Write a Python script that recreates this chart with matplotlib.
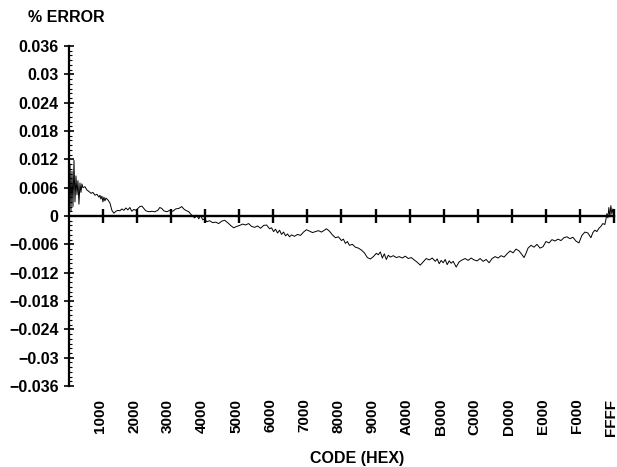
import numpy as np
import matplotlib
matplotlib.use('Agg')
import matplotlib.pyplot as plt
from matplotlib.ticker import MultipleLocator, FixedLocator
from matplotlib.transforms import ScaledTranslation

plt.rcParams['font.family'] = ['Liberation Sans', 'DejaVu Sans']
plt.rcParams['font.weight'] = 'bold'

# DAC code (decimal) and % error
codes = [
    0, 120, 240, 360, 480, 600, 720, 840, 960, 1080,
    1200, 1320, 1440, 1560, 1680, 1920, 2160, 2400, 2640, 2880,
    3120, 3360, 3600, 3720, 3840, 3960, 4080, 4200, 4320, 4440,
    4680, 4920, 5160, 5400, 5640, 5880, 6120, 6360, 6600, 6840,
    7080, 7320, 7560, 7800, 8040, 8280, 8520, 8760, 9000, 9240,
    9600, 9960, 10320, 10680, 10920, 11160, 11400, 11760, 12120, 12480,
    12840, 13200, 13560, 13800, 14040, 14400, 14640, 14880, 15120, 15360,
    15600, 15840, 16080, 16320, 16560, 16920, 17280, 17640, 18000, 18360,
    18720, 19080, 19440, 19800, 20160, 20520, 20880, 21240, 21600, 21960,
    22320, 22680, 23040, 23400, 23760, 24120, 24360, 24600, 24840, 25080,
    25320, 25560, 25800, 26040, 26280, 26520, 26760, 27120, 27480, 27840,
    28200, 28560, 28920, 29280, 29640, 30000, 30360, 30720, 30960, 31320,
    31680, 32040, 32400, 32760, 33000, 33240, 33480, 33720, 34080, 34440,
    34800, 35160, 35520, 35880, 36240, 36600, 36960, 37200, 37440, 37680,
    37920, 38160, 38400, 38640, 39000, 39360, 39720, 40080, 40440, 40800,
    41160, 41520, 41880, 42240, 42600, 42960, 43320, 43680, 44040, 44280,
    44520, 44760, 45000, 45240, 45480, 45720, 45960, 46200, 46560, 46920,
    47280, 47640, 48000, 48360, 48720, 49080, 49440, 49800, 50160, 50520,
    50880, 51240, 51600, 51960, 52320, 52680, 53040, 53400, 53760, 54120,
    54480, 54720, 54960, 55200, 55560, 55920, 56280, 56640, 57000, 57360,
    57720, 58080, 58440, 58800, 59160, 59520, 59880, 60240, 60600, 60960,
    61320, 61680, 62040, 62400, 62760, 63000, 63240, 63480, 63720, 63960,
    64200, 64440, 64560, 64680, 64800, 64920, 65040, 65160, 65280, 65400,
    65520, 65535,
]
error_pct = [
    0.0000, 0.0110, 0.0010, 0.0095, 0.0020, 0.0118, 0.0030, 0.0085, 0.0045, 0.0075,
    0.0025, 0.0070, 0.0050, 0.0068, 0.0060, 0.0062, 0.0055, 0.0052, 0.0048, 0.0050,
    0.0044, 0.0046, 0.0040, 0.0044, 0.0036, 0.0042, 0.0030, 0.0040, 0.0032, 0.0038,
    0.0034, 0.0028, 0.0012, 0.0006, 0.0010, 0.0012, 0.0011, 0.0015, 0.0012, 0.0017,
    0.0013, 0.0018, 0.0010, 0.0014, 0.0012, 0.0016, 0.0020, 0.0021, 0.0016, 0.0011,
    0.0009, 0.0010, 0.0009, 0.0012, 0.0018, 0.0016, 0.0011, 0.0009, 0.0012, 0.0010,
    0.0015, 0.0016, 0.0020, 0.0015, 0.0012, 0.0009, 0.0004, 0.0000, -0.0004, 0.0002,
    -0.0006, 0.0001, -0.0008, -0.0006, -0.0012, -0.0010, -0.0014, -0.0013, -0.0016, -0.0011,
    -0.0009, -0.0014, -0.0020, -0.0025, -0.0022, -0.0020, -0.0017, -0.0019, -0.0016, -0.0022,
    -0.0024, -0.0021, -0.0026, -0.0020, -0.0019, -0.0027, -0.0025, -0.0033, -0.0028, -0.0036,
    -0.0030, -0.0039, -0.0034, -0.0042, -0.0038, -0.0044, -0.0040, -0.0043, -0.0039, -0.0041,
    -0.0034, -0.0029, -0.0032, -0.0035, -0.0033, -0.0031, -0.0034, -0.0030, -0.0027, -0.0032,
    -0.0040, -0.0046, -0.0044, -0.0052, -0.0049, -0.0058, -0.0054, -0.0062, -0.0060, -0.0066,
    -0.0068, -0.0072, -0.0078, -0.0088, -0.0091, -0.0086, -0.0079, -0.0082, -0.0076, -0.0089,
    -0.0080, -0.0092, -0.0083, -0.0087, -0.0084, -0.0088, -0.0086, -0.0089, -0.0085, -0.0090,
    -0.0088, -0.0093, -0.0098, -0.0104, -0.0097, -0.0090, -0.0093, -0.0089, -0.0096, -0.0091,
    -0.0101, -0.0094, -0.0099, -0.0092, -0.0103, -0.0095, -0.0100, -0.0096, -0.0108, -0.0097,
    -0.0093, -0.0090, -0.0094, -0.0089, -0.0093, -0.0095, -0.0090, -0.0096, -0.0092, -0.0099,
    -0.0090, -0.0086, -0.0089, -0.0084, -0.0087, -0.0080, -0.0074, -0.0078, -0.0070, -0.0074,
    -0.0082, -0.0088, -0.0079, -0.0068, -0.0062, -0.0066, -0.0060, -0.0068, -0.0065, -0.0054,
    -0.0057, -0.0050, -0.0053, -0.0049, -0.0052, -0.0046, -0.0044, -0.0048, -0.0045, -0.0053,
    -0.0057, -0.0041, -0.0034, -0.0036, -0.0046, -0.0035, -0.0030, -0.0033, -0.0026, -0.0022,
    -0.0016, -0.0018, -0.0008, 0.0005, -0.0004, 0.0018, -0.0002, 0.0022, 0.0004, 0.0015,
    0.0002, 0.0010,
]

tick_codes = [0x1000 * i for i in range(1, 16)] + [0xFFFF]
tick_labels = ['1000', '2000', '3000', '4000', '5000', '6000', '7000', '8000',
               '9000', 'A000', 'B000', 'C000', 'D000', 'E000', 'F000', 'FFFF']
y_ticks = [-0.036, -0.03, -0.024, -0.018, -0.012, -0.006, 0, 0.006,
           0.012, 0.018, 0.024, 0.03, 0.036]


def fmt(v):
    if v == 0:
        return '0'
    s = ('%.3f' % abs(v)).rstrip('0')
    return ('\u2212' + s) if v < 0 else s


fig = plt.figure(figsize=(6.17, 4.67), dpi=100)
ax = fig.add_axes([0.1118, 0.1734, 0.8833, 0.7281])

ax.plot(codes, error_pct, color='k', linewidth=0.7, zorder=3)

ax.set_xlim(0, 0xFFFF)
ax.set_ylim(-0.036, 0.036)

for side in ('top', 'right'):
    ax.spines[side].set_visible(False)
ax.spines['left'].set_linewidth(1.6)
ax.spines['bottom'].set_position(('data', 0))
ax.spines['bottom'].set_linewidth(1.7)

ax.yaxis.set_major_locator(FixedLocator(y_ticks))
ax.set_yticklabels([fmt(v) for v in y_ticks])
ax.yaxis.set_minor_locator(MultipleLocator(0.001))
ax.tick_params(axis='y', which='major', direction='inout', length=7, width=1.2,
               labelsize=11.5, pad=4)
ax.tick_params(axis='y', which='minor', direction='in', length=2.5, width=0.8)

ax.set_xticks(tick_codes)
ax.tick_params(axis='x', which='major', direction='inout', length=10, width=1.7,
               labelbottom=False)

# hex labels sit below the plot, not on the zero line
sec = ax.secondary_xaxis(0.0)
sec.spines['bottom'].set_visible(False)
sec.set_xticks(tick_codes)
sec.set_xticklabels(tick_labels, rotation=90, fontsize=11, fontweight='bold')
sec.tick_params(axis='x', length=0, pad=9)
shift = ScaledTranslation(-3 / 100, 0, fig.dpi_scale_trans)
for lbl in sec.get_xticklabels():
    lbl.set_transform(lbl.get_transform() + shift)

fig.text(0.579, 0.019, 'CODE (HEX)', fontsize=11.5, fontweight='bold',
         ha='center', va='center')
fig.text(0.045, 0.962, '% ERROR', fontsize=11.5, fontweight='bold',
         ha='left', va='center')

fig.savefig('out.png', dpi=100, facecolor='white')
